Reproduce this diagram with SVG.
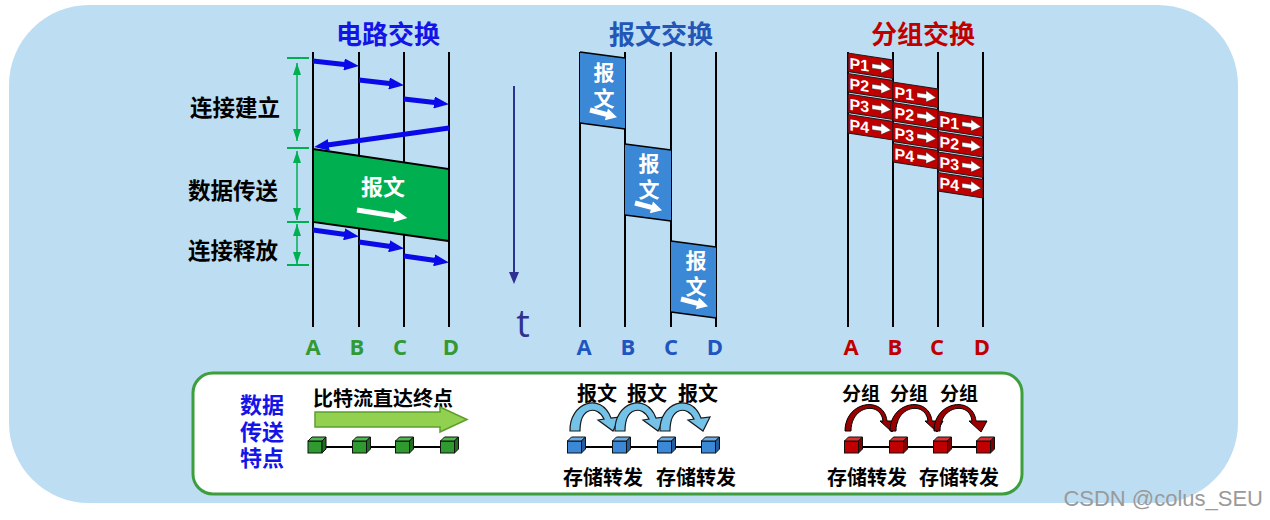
<svg xmlns="http://www.w3.org/2000/svg" xmlns:xlink="http://www.w3.org/1999/xlink" width="1270" height="520" viewBox="0 0 1270 520">
<style>
.cjk{font-family:"Noto Sans CJK SC","Noto Sans",sans-serif;font-weight:700;text-anchor:middle}
.lat{font-family:"Open Sans","Liberation Sans",sans-serif;font-weight:700;text-anchor:middle;font-size:22px}
.vl{stroke:#000;stroke-width:2}
.ba{stroke:#0A0AE8;stroke-width:5;fill:none;marker-end:url(#bh)}
.gt{stroke:#00B050;stroke-width:2}
.ga{stroke:#00B050;stroke-width:1.5;marker-start:url(#gh);marker-end:url(#gh)}
.wa{fill:#fff}
.pk rect{fill:#C00000;stroke:#1a1a1a;stroke-width:1}
.pk text{font-family:"Liberation Sans",Arial,sans-serif;font-weight:700;font-size:16px;fill:#fff}
.mb{fill:#3A88D6;stroke:none}
.me{stroke:#000;stroke-width:1.5}
</style>
<defs>
<marker id="bh" viewBox="0 0 3 2.4" refX="1" refY="1.2" markerWidth="3" markerHeight="2.4" orient="auto" markerUnits="strokeWidth">
<path d="M0,0 L3,1.2 L0,2.4 z" fill="#0A0AE8"/>
</marker>
<marker id="gh" viewBox="0 0 12 8" refX="12" refY="4" markerWidth="12" markerHeight="8" orient="auto-start-reverse" markerUnits="userSpaceOnUse">
<path d="M0,0 L12,4 L0,8 z" fill="#00B050"/>
</marker>
<g id="cubeG">
<rect x="-9.5" y="441" width="14" height="12" fill="#2F9A2F" stroke="#111" stroke-width="1"/>
<polygon points="-9.5,441 -5.5,437 8.5,437 4.5,441" fill="#4DBA4D" stroke="#111" stroke-width="1"/>
<polygon points="4.5,441 8.5,437 8.5,449 4.5,453" fill="#1E6E1E" stroke="#111" stroke-width="1"/>
</g>
<g id="cubeB">
<rect x="-9.5" y="441" width="14" height="12" fill="#3A88D6" stroke="#111" stroke-width="1"/>
<polygon points="-9.5,441 -5.5,437 8.5,437 4.5,441" fill="#6AAEE8" stroke="#111" stroke-width="1"/>
<polygon points="4.5,441 8.5,437 8.5,449 4.5,453" fill="#255E9E" stroke="#111" stroke-width="1"/>
</g>
<g id="cubeR">
<rect x="-9.5" y="441" width="14" height="12" fill="#C00000" stroke="#111" stroke-width="1"/>
<polygon points="-9.5,441 -5.5,437 8.5,437 4.5,441" fill="#E03030" stroke="#111" stroke-width="1"/>
<polygon points="4.5,441 8.5,437 8.5,449 4.5,453" fill="#800000" stroke="#111" stroke-width="1"/>
</g>
<path id="arcB" d="M-7,-6 C-8,-34 24,-46 34,-19 L43,-20 L36,-6 L21,-17 L27,-18 C20,-32 3,-30 3,-6 Z" fill="#74C2E8" stroke="#1a1a1a" stroke-width="1.2"/>
<path id="arcR" d="M-9,-6 C-9,-36 30,-42 33,-16 L44,-16 L38,-5 L26,-16 L29,-16 C27,-36 -3,-32 -3,-6 Z" fill="#9B0000" stroke="#000" stroke-width="1"/>
<path id="pa" d="M24,7 L33,7 L33,3.5 L43,9.2 L33,15 L33,11.5 L24,11.5 Z" fill="#fff" stroke="#333" stroke-width="0.5"/>
</defs>

<rect id="background" x="9" y="5" width="1229" height="498" rx="80" ry="80" fill="#BDDDF2"/>

<!-- Circuit switching -->
<g id="circuit">
<text class="cjk" x="388" y="44" font-size="26" fill="#1414E8">电路交换</text>
<line class="vl" x1="313" y1="52" x2="313" y2="327"/>
<line class="vl" x1="359" y1="52" x2="359" y2="327"/>
<line class="vl" x1="404" y1="52" x2="404" y2="327"/>
<line class="vl" x1="449" y1="52" x2="449" y2="327"/>
<g id="circuit-data">
<polygon points="313,149 449,169 449,241 313,222" fill="#00B050" stroke="#000" stroke-width="2"/>
<text class="cjk" x="383" y="195" font-size="22" fill="#fff">报文</text>
<path class="wa" transform="translate(357,210) rotate(9)" d="M0,-2.5 L38,-2.5 L38,-6.5 L51,0 L38,6.5 L38,2.5 L0,2.5 Z"/>
</g>
<text class="cjk" x="235" y="116" font-size="22.5" fill="#000">连接建立</text>
<text class="cjk" x="233" y="199" font-size="22.5" fill="#000">数据传送</text>
<text class="cjk" x="233" y="259" font-size="22.5" fill="#000">连接释放</text>
<text class="lat" x="313" y="355" fill="#339933">A</text>
<text class="lat" x="357" y="355" fill="#339933">B</text>
<text class="lat" x="400" y="355" fill="#339933">C</text>
<text class="lat" x="451" y="355" fill="#339933">D</text>
</g>

<g id="connectors">
<line class="ba" x1="313" y1="61" x2="349" y2="65"/>
<line class="ba" x1="359" y1="80" x2="394" y2="84"/>
<line class="ba" x1="404" y1="99" x2="439" y2="103"/>
<line class="ba" x1="449" y1="128" x2="324" y2="145.6"/>
<line class="ba" x1="313" y1="230" x2="349" y2="235"/>
<line class="ba" x1="359" y1="242" x2="394" y2="247"/>
<line class="ba" x1="404" y1="256" x2="439" y2="261"/>
<line class="gt" x1="287" y1="58" x2="309" y2="58"/>
<line class="gt" x1="287" y1="148" x2="309" y2="148"/>
<line class="gt" x1="287" y1="222" x2="309" y2="222"/>
<line class="gt" x1="287" y1="265" x2="309" y2="265"/>
<line class="ga" x1="297" y1="63" x2="297" y2="141"/>
<line class="ga" x1="297" y1="151" x2="297" y2="220"/>
<line class="ga" x1="297" y1="224" x2="297" y2="264"/>
<line x1="514" y1="86" x2="514" y2="276" stroke="#2E3192" stroke-width="2"/>
<polygon points="509,272 519,272 514,284" fill="#2E3192"/>
</g>
<text id="t-label" x="523" y="337" font-family="Open Sans,Liberation Sans,sans-serif" font-size="38" fill="#2E3192" text-anchor="middle">t</text>

<!-- Message switching -->
<g id="message">
<text class="cjk" x="661" y="44" font-size="26" fill="#2356B6">报文交换</text>
<line class="vl" x1="580" y1="52" x2="580" y2="327"/>
<line class="vl" x1="625" y1="52" x2="625" y2="327"/>
<line class="vl" x1="671" y1="52" x2="671" y2="327"/>
<line class="vl" x1="716" y1="52" x2="716" y2="327"/>
<g id="msg1">
<polygon class="mb" points="580,52 625,58 625,129 580,123"/>
<line class="me" x1="580" y1="52" x2="625" y2="58"/><line class="me" x1="580" y1="123" x2="625" y2="129"/>
<text class="cjk" font-size="21" fill="#fff"><tspan x="604" y="80">报</tspan><tspan x="604" y="106">文</tspan></text>
<path class="wa" transform="translate(590,110) rotate(15)" d="M0,-2.5 L17,-2.5 L17,-6 L28,0 L17,6 L17,2.5 L0,2.5 Z"/>
</g>
<g id="msg2">
<polygon class="mb" points="625,144 671,150 671,221 625,215"/>
<line class="me" x1="625" y1="144" x2="671" y2="150"/><line class="me" x1="625" y1="215" x2="671" y2="221"/>
<text class="cjk" font-size="21" fill="#fff"><tspan x="649" y="171">报</tspan><tspan x="649" y="197">文</tspan></text>
<path class="wa" transform="translate(635,203) rotate(15)" d="M0,-2.5 L17,-2.5 L17,-6 L28,0 L17,6 L17,2.5 L0,2.5 Z"/>
</g>
<g id="msg3">
<polygon class="mb" points="671,241 716,247 716,318 671,312"/>
<line class="me" x1="671" y1="241" x2="716" y2="247"/><line class="me" x1="671" y1="312" x2="716" y2="318"/>
<text class="cjk" font-size="21" fill="#fff"><tspan x="696" y="268">报</tspan><tspan x="696" y="294">文</tspan></text>
<path class="wa" transform="translate(681,299) rotate(15)" d="M0,-2.5 L17,-2.5 L17,-6 L28,0 L17,6 L17,2.5 L0,2.5 Z"/>
</g>
<text class="lat" x="584" y="355" fill="#1F55C0">A</text>
<text class="lat" x="628" y="355" fill="#1F55C0">B</text>
<text class="lat" x="671" y="355" fill="#1F55C0">C</text>
<text class="lat" x="715" y="355" fill="#1F55C0">D</text>
</g>

<!-- Packet switching -->
<g id="packet">
<text class="cjk" x="923" y="44" font-size="26" fill="#C00000">分组交换</text>
<line class="vl" x1="848" y1="52" x2="848" y2="327"/>
<line class="vl" x1="893" y1="52" x2="893" y2="327"/>
<line class="vl" x1="938" y1="52" x2="938" y2="327"/>
<line class="vl" x1="983" y1="52" x2="983" y2="327"/>
<g class="pk" transform="translate(848,53) skewY(8.8)"><rect width="45" height="18.5"/><text x="1.5" y="15.5">P1</text><use xlink:href="#pa"/></g>
<g class="pk" transform="translate(848,73.5) skewY(8.8)"><rect width="45" height="18.5"/><text x="1.5" y="15.5">P2</text><use xlink:href="#pa"/></g>
<g class="pk" transform="translate(848,94) skewY(8.8)"><rect width="45" height="18.5"/><text x="1.5" y="15.5">P3</text><use xlink:href="#pa"/></g>
<g class="pk" transform="translate(848,114.5) skewY(8.8)"><rect width="45" height="18.5"/><text x="1.5" y="15.5">P4</text><use xlink:href="#pa"/></g>
<g class="pk" transform="translate(893,82) skewY(8.8)"><rect width="45" height="18.5"/><text x="1.5" y="15.5">P1</text><use xlink:href="#pa"/></g>
<g class="pk" transform="translate(893,102.5) skewY(8.8)"><rect width="45" height="18.5"/><text x="1.5" y="15.5">P2</text><use xlink:href="#pa"/></g>
<g class="pk" transform="translate(893,123) skewY(8.8)"><rect width="45" height="18.5"/><text x="1.5" y="15.5">P3</text><use xlink:href="#pa"/></g>
<g class="pk" transform="translate(893,143.5) skewY(8.8)"><rect width="45" height="18.5"/><text x="1.5" y="15.5">P4</text><use xlink:href="#pa"/></g>
<g class="pk" transform="translate(938,111) skewY(8.8)"><rect width="45" height="18.5"/><text x="1.5" y="15.5">P1</text><use xlink:href="#pa"/></g>
<g class="pk" transform="translate(938,131.5) skewY(8.8)"><rect width="45" height="18.5"/><text x="1.5" y="15.5">P2</text><use xlink:href="#pa"/></g>
<g class="pk" transform="translate(938,152) skewY(8.8)"><rect width="45" height="18.5"/><text x="1.5" y="15.5">P3</text><use xlink:href="#pa"/></g>
<g class="pk" transform="translate(938,172.5) skewY(8.8)"><rect width="45" height="18.5"/><text x="1.5" y="15.5">P4</text><use xlink:href="#pa"/></g>
<text class="lat" x="851" y="355" fill="#C00000">A</text>
<text class="lat" x="895" y="355" fill="#C00000">B</text>
<text class="lat" x="937" y="355" fill="#C00000">C</text>
<text class="lat" x="982" y="355" fill="#C00000">D</text>
</g>

<!-- Bottom panel -->
<g id="features">
<rect x="193" y="373" width="829" height="121" rx="20" ry="20" fill="#fff" stroke="#3C9E3C" stroke-width="3"/>
<text class="cjk" font-size="22" fill="#1414E8"><tspan x="262" y="413">数据</tspan><tspan x="262" y="440">传送</tspan><tspan x="262" y="466">特点</tspan></text>
</g>
<g id="feature-circuit">
<text class="cjk" x="383" y="406" font-size="20" fill="#000">比特流直达终点</text>
<path d="M315,412 L440,412 L440,407 L467,419.5 L440,432 L440,427 L315,427 Z" fill="#92D050" stroke="#5E9E2E" stroke-width="1.5"/>
<line x1="317" y1="447" x2="450" y2="447" stroke="#000" stroke-width="2"/>
<use xlink:href="#cubeG" x="317.5"/>
<use xlink:href="#cubeG" x="362"/>
<use xlink:href="#cubeG" x="405"/>
<use xlink:href="#cubeG" x="450"/>
</g>
<g id="feature-message">
<text class="cjk" x="597" y="401" font-size="20" fill="#000">报文</text>
<text class="cjk" x="647" y="401" font-size="20" fill="#000">报文</text>
<text class="cjk" x="698" y="401" font-size="20" fill="#000">报文</text>
<line x1="577" y1="447" x2="711" y2="447" stroke="#000" stroke-width="2"/>
<use xlink:href="#arcB" transform="translate(577,437)"/>
<use xlink:href="#arcB" transform="translate(622,437)"/>
<use xlink:href="#arcB" transform="translate(667,437)"/>
<use xlink:href="#cubeB" x="577"/>
<use xlink:href="#cubeB" x="622"/>
<use xlink:href="#cubeB" x="667"/>
<use xlink:href="#cubeB" x="711"/>
<text class="cjk" x="603" y="485" font-size="20" fill="#000">存储转发</text>
<text class="cjk" x="696" y="485" font-size="20" fill="#000">存储转发</text>
</g>
<g id="feature-packet">
<text class="cjk" x="861" y="401" font-size="19" fill="#000">分组</text>
<text class="cjk" x="909" y="401" font-size="19" fill="#000">分组</text>
<text class="cjk" x="959" y="401" font-size="19" fill="#000">分组</text>
<line x1="854" y1="447" x2="986" y2="447" stroke="#000" stroke-width="2"/>
<use xlink:href="#arcR" transform="translate(854,437)"/>
<use xlink:href="#arcR" transform="translate(899,437)"/>
<use xlink:href="#arcR" transform="translate(943,437)"/>
<use xlink:href="#cubeR" x="854"/>
<use xlink:href="#cubeR" x="899"/>
<use xlink:href="#cubeR" x="943"/>
<use xlink:href="#cubeR" x="986"/>
<text class="cjk" x="867" y="485" font-size="20" fill="#000">存储转发</text>
<text class="cjk" x="959" y="485" font-size="20" fill="#000">存储转发</text>
</g>
<text id="watermark" x="1263" y="506" font-family="Liberation Sans,Arial,sans-serif" font-size="22" fill="#9a9a9a" text-anchor="end">CSDN @colus_SEU</text>
</svg>
